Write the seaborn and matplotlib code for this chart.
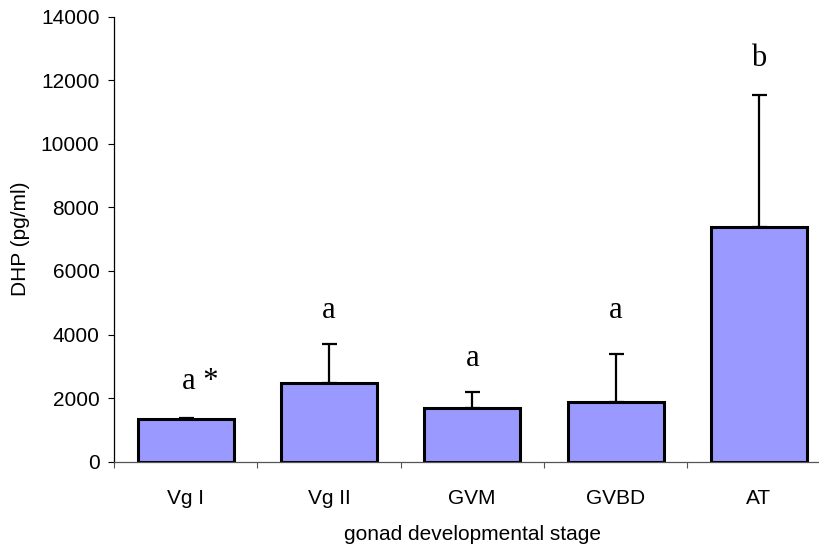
import seaborn as sns
import matplotlib.pyplot as plt
import numpy as np
import pandas as pd

# Данные
stages = ["Vg I", "Vg II", "GVM", "GVBD", "AT"]
dhp_mean = [1355, 2485, 1680, 1870, 7390]
dhp_err = [25, 1210, 520, 1520, 4135]
letters = ["a *", "a", "a", "a", "b"]
letter_y = [2510, 4770, 3260, 4770, 12700]

sns.set_style("ticks", {"text.color": "black", "axes.labelcolor": "black",
                        "xtick.color": "black", "ytick.color": "black",
                        "axes.edgecolor": "black"})
plt.rcParams["font.family"] = ["Liberation Sans", "DejaVu Sans"]

df = pd.DataFrame({"stage": stages, "dhp": dhp_mean})

fig = plt.figure(figsize=(8.2, 5.5), dpi=100)
ax = fig.add_axes([114 / 820, 1 - 461.7 / 550, 716.5 / 820, 445 / 550])

sns.barplot(data=df, x="stage", y="dhp", color="#9999FF", saturation=1,
            edgecolor="black", linewidth=2.2, width=0.67, ax=ax, zorder=2)

x = np.arange(len(stages))
ax.errorbar(x, dhp_mean, yerr=[np.zeros(len(stages)), dhp_err], fmt="none",
            ecolor="black", elinewidth=1.6, capsize=5.4, capthick=1.6, zorder=1)

for i, (t, yy) in enumerate(zip(letters, letter_y)):
    dx = 0.1 if "*" in t else 0
    ax.text(i + dx, yy, t, ha="center", va="center", fontsize=22, color="black",
            family=["Liberation Serif", "DejaVu Serif"])

ax.set_xlim(-0.5, len(stages) - 0.5)
ax.set_ylim(0, 14000)
ax.set_yticks(range(0, 14001, 2000))
ax.tick_params(axis="y", labelsize=15, length=4.5, width=0.8, pad=6)

# деления на границах категорий, подписи по центрам
ax.set_xticks(np.arange(-0.5, len(stages), 1.0))
ax.set_xticklabels([])
ax.set_xticks(x, minor=True)
ax.set_xticklabels(stages, minor=True)
ax.tick_params(axis="x", which="major", length=4.5, width=0.8, color="#555555")
ax.tick_params(axis="x", which="minor", length=0, labelsize=15, pad=20)

ax.set_xlabel("gonad developmental stage", fontsize=15, labelpad=12)
ax.set_ylabel("DHP (pg/ml)", fontsize=15, labelpad=8)

sns.despine(ax=ax)
ax.spines["left"].set_linewidth(0.9)
ax.spines["bottom"].set_linewidth(0.9)
ax.spines["bottom"].set_color("#555555")

fig.savefig("out.png", dpi=100)
